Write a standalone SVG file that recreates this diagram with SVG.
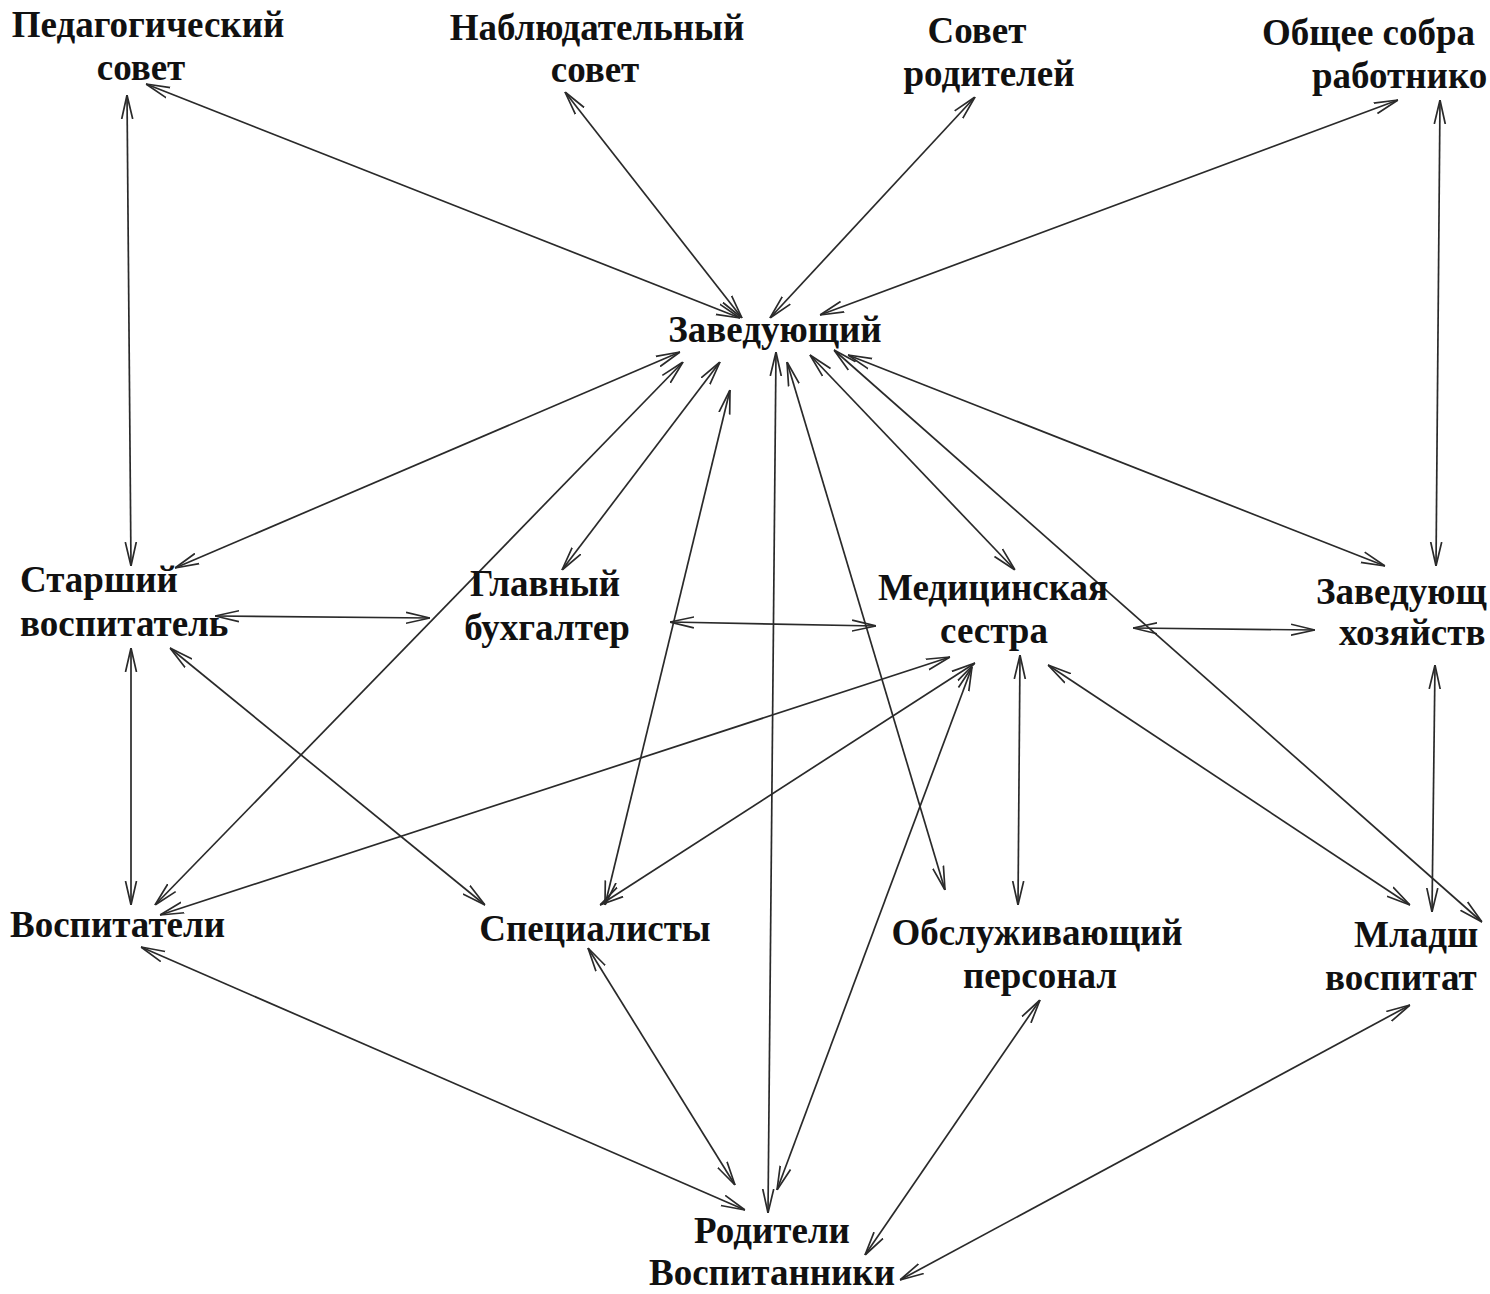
<svg xmlns="http://www.w3.org/2000/svg" width="1490" height="1294" viewBox="0 0 1490 1294">
<style>
.t{font-family:"Liberation Serif","Times New Roman",serif;font-weight:bold;font-size:37px;fill:#111111}
.m{text-anchor:middle}
.c line{stroke:#2a2a2a;stroke-width:1.7;marker-start:url(#a);marker-end:url(#a)}
</style>
<defs>
<marker id="a" markerUnits="userSpaceOnUse" viewBox="0 0 24 14" refX="24" refY="7" markerWidth="24" markerHeight="14" orient="auto-start-reverse">
<path d="M0,1.5 L24,7 L0,12.5" fill="none" stroke="#2a2a2a" stroke-width="1.7"/>
</marker>
</defs>
<rect width="1490" height="1294" fill="#ffffff"/>
<g class="c" id="connectors">
<line x1="146" y1="84" x2="740" y2="318"/>
<line x1="565" y1="92" x2="742" y2="318"/>
<line x1="975" y1="97" x2="770" y2="318"/>
<line x1="1398" y1="100" x2="820" y2="315"/>
<line x1="127" y1="95" x2="131" y2="566"/>
<line x1="1440" y1="100" x2="1436" y2="566"/>
<line x1="680" y1="352" x2="175" y2="568"/>
<line x1="683" y1="362" x2="155" y2="905"/>
<line x1="720" y1="362" x2="562" y2="570"/>
<line x1="730" y1="390" x2="605" y2="905"/>
<line x1="776" y1="352" x2="768" y2="1213"/>
<line x1="787" y1="362" x2="945" y2="890"/>
<line x1="810" y1="355" x2="1015" y2="570"/>
<line x1="834" y1="350" x2="1482" y2="922"/>
<line x1="848" y1="355" x2="1385" y2="566"/>
<line x1="215" y1="616" x2="430" y2="618"/>
<line x1="670" y1="622" x2="876" y2="626"/>
<line x1="1133" y1="628" x2="1315" y2="630"/>
<line x1="131" y1="648" x2="131" y2="905"/>
<line x1="170" y1="648" x2="485" y2="905"/>
<line x1="950" y1="657" x2="160" y2="915"/>
<line x1="975" y1="663" x2="600" y2="905"/>
<line x1="972" y1="667" x2="777" y2="1190"/>
<line x1="1020" y1="655" x2="1018" y2="905"/>
<line x1="1048" y1="665" x2="1410" y2="905"/>
<line x1="1435" y1="665" x2="1432" y2="912"/>
<line x1="141" y1="947" x2="745" y2="1210"/>
<line x1="588" y1="948" x2="735" y2="1185"/>
<line x1="1040" y1="1000" x2="865" y2="1255"/>
<line x1="1410" y1="1005" x2="900" y2="1280"/>
</g>
<g id="n-ped"><text class="t m" x="148" y="37">Педагогический</text><text class="t m" x="141" y="80">совет</text></g>
<g id="n-nab"><text class="t m" x="597" y="40">Наблюдательный</text><text class="t m" x="595" y="82">совет</text></g>
<g id="n-sovrod"><text class="t m" x="977" y="43">Совет</text><text class="t m" x="989" y="86">родителей</text></g>
<g id="n-obsh"><text class="t" x="1262" y="45">Общее собра</text><text class="t" x="1312" y="88">работнико</text></g>
<g id="n-zav"><text class="t m" x="775" y="342">Заведующий</text></g>
<g id="n-starsh"><text class="t" x="20" y="592">Старший</text><text class="t" x="20" y="636">воспитатель</text></g>
<g id="n-buh"><text class="t m" x="545" y="596">Главный</text><text class="t m" x="547" y="640">бухгалтер</text></g>
<g id="n-med"><text class="t m" x="993" y="600">Медицинская</text><text class="t m" x="994" y="643">сестра</text></g>
<g id="n-zavhoz"><text class="t" x="1316" y="604">Заведующ</text><text class="t" x="1339" y="645">хозяйств</text></g>
<g id="n-vosp"><text class="t" x="10" y="937">Воспитатели</text></g>
<g id="n-spec"><text class="t m" x="595" y="941">Специалисты</text></g>
<g id="n-obsl"><text class="t m" x="1037" y="945">Обслуживающий</text><text class="t m" x="1040" y="988">персонал</text></g>
<g id="n-mlad"><text class="t" x="1354" y="947">Младш</text><text class="t" x="1325" y="990">воспитат</text></g>
<g id="n-rod"><text class="t m" x="772" y="1243">Родители</text><text class="t m" x="772" y="1285">Воспитанники</text></g>
</svg>
